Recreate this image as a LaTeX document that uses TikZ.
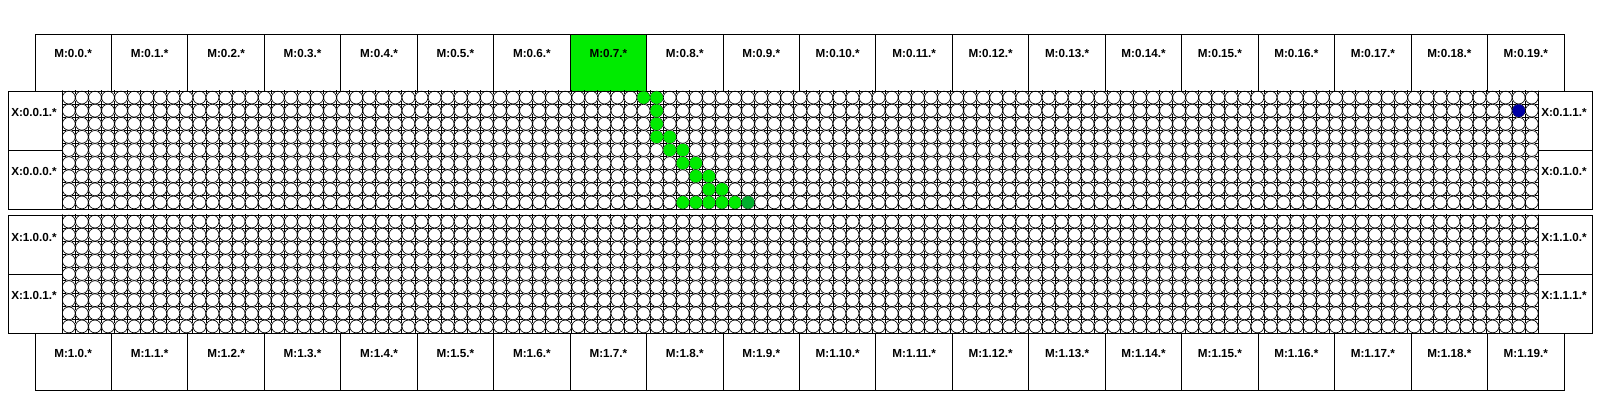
\documentclass[tikz,border=0pt]{standalone}
\usepackage{fontspec}
\setmainfont{Liberation Sans}
\usetikzlibrary{calc}
\definecolor{pathgreen}{RGB}{0,235,0}
\definecolor{endgreen}{RGB}{0,175,45}
\definecolor{srcblue}{RGB}{0,0,165}
\tikzset{
  lbl/.style={font=\fontsize{8.3}{9}\selectfont\bfseries, inner sep=0, anchor=base},
  box/.style={black, line width=.7pt},
  cell/.style={black, line width=.45pt},
  tick/.style={black, line width=.6pt},
}
\begin{document}
\begin{tikzpicture}[x=0.025cm, y=-0.025cm]
\useasboundingbox (0,0) rectangle (1600,400);
\fill[white] (0,0) rectangle (1600,400);
\fill[pathgreen] (35+76.45*7,34) rectangle ++(76.45,57);
\foreach \i [evaluate=\i as \xl using 35+76.45*\i] in {0,...,19} {
  \draw[box] (\xl,34) rectangle ++(76.45,57);
  \node[lbl] (mt\i) at (\xl+38.2,57.5) {M:0.\i.*};
  \draw[box] (\xl,333) rectangle ++(76.45,57);
  \node[lbl] (mb\i) at (\xl+38.2,357) {M:1.\i.*};
}
\foreach \s/\yt/\up/\lo in {0/91/1/0,1/215/0/1} {
  \foreach \r in {0,...,8} {
    \draw[cell] \foreach \c in {0,...,112} {(68.831+13.062*\c, \yt+6.556+13.111*\r) circle[radius=6.4]};
  }
  \begin{scope}
  \clip (62.3,\yt) rectangle ++(1476,118);
  \foreach \r in {0,...,9} {
    \draw[tick] \foreach \c in {0,...,113} {(58.8+13.062*\c,\yt+13.111*\r) -- ++(7,0) (62.3+13.062*\c,\yt-3.5+13.111*\r) -- ++(0,7)};
  }
  \end{scope}
  \draw[box] (8.3,\yt) rectangle (1592,\yt+118);
  \draw[box] (62.3,\yt) -- ++(0,118) (1538.3,\yt) -- ++(0,118);
  \draw[box] (8.3,\yt+59) -- (62.3,\yt+59) (1538.3,\yt+59) -- (1592,\yt+59);
  \node[lbl, anchor=base west] (x\s0\up) at (11,\yt+26) {X:\s.0.\up.*};
  \node[lbl, anchor=base west] (x\s0\lo) at (11,\yt+85) {X:\s.0.\lo.*};
  \node[lbl, anchor=base west] (x\s1\up) at (1541,\yt+26) {X:\s.1.\up.*};
  \node[lbl, anchor=base west] (x\s1\lo) at (1541,\yt+85) {X:\s.1.\lo.*};
}
\foreach \r/\c in {0/44,0/45,1/45,2/45,3/45,3/46,4/46,4/47,5/47,5/48,6/48,6/49,7/49,7/50,8/47,8/48,8/49,8/50,8/51} {
  \fill[pathgreen] (68.831+13.062*\c, 97.556+13.111*\r) circle[radius=6.3];
}
\fill[endgreen] (68.831+13.062*52, 97.556+13.111*8) circle[radius=6.3];
\fill[srcblue] (68.831+13.062*111, 97.556+13.111*1) circle[radius=6.3];
\end{tikzpicture}
\end{document}
